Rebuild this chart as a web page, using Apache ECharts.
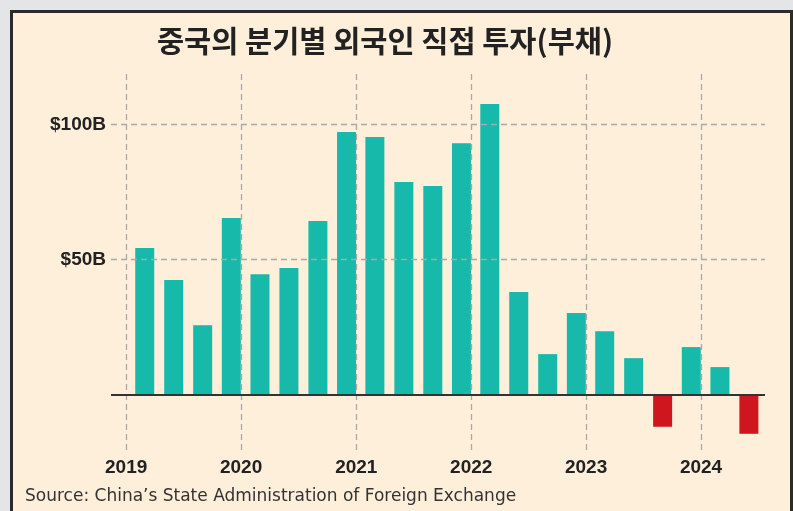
<!DOCTYPE html>
<html>
<head>
<meta charset="utf-8">
<script src="https://cdn.jsdelivr.net/npm/echarts@6/dist/echarts.min.js"></script>
<style>
  html, body { margin: 0; padding: 0; width: 793px; height: 511px; overflow: hidden; background: #e4e5e7; }
  .frame { position: absolute; left: 10px; top: 10px; width: 783px; height: 530px; box-sizing: border-box;
           border: 3px solid #2b2b2b; background: #feefda; }
  #chart { position: absolute; left: 0; top: 0; width: 793px; height: 511px; }
</style>
</head>
<body>
<div class="frame"></div>
<div id="chart"></div>
<script>
// 분기별 데이터 (막대 위치용 날짜, 값은 십억 달러)
const barDates = [
  '2019-03-01', '2019-06-01', '2019-09-01', '2019-12-01',
  '2020-03-01', '2020-06-01', '2020-09-01', '2020-12-01',
  '2021-03-01', '2021-06-01', '2021-09-01', '2021-12-01',
  '2022-03-01', '2022-06-01', '2022-09-01', '2022-12-01',
  '2023-03-01', '2023-06-01', '2023-09-01', '2023-12-01',
  '2024-03-01', '2024-06-01'
];
const fdiValues = [
  54.3, 42.4, 25.7, 65.4,
  44.6, 46.9, 64.3, 97.2,
  95.4, 78.7, 77.2, 93.1,
  107.6, 38.0, 15.0, 30.2,
  23.5, 13.5, -11.9, 17.6,
  10.2, -14.5
];
const yearTicks = ['2019', '2020', '2021', '2022', '2023', '2024'];
const valueTicks = [50, 100];

const chart = echarts.init(document.getElementById('chart'));

const gridLine = { type: [6, 4], color: '#a9a9a9', width: 1.3 };

const option = {
  backgroundColor: 'transparent',
  animation: false,
  title: {
    text: '중국의 분기별 외국인 직접 투자(부채)',
    left: 380,
    top: 21,
    textAlign: 'center',
    textStyle: {
      fontFamily: 'Noto Sans CJK KR',
      fontWeight: 'bold',
      fontSize: 29.5,
      color: '#222'
    }
  },
  graphic: [{
    type: 'text',
    left: 25,
    top: 488,
    style: {
      text: 'Source: China\u2019s State Administration of Foreign Exchange',
      font: '17px "DejaVu Sans", sans-serif',
      fill: '#333'
    }
  }],
  grid: { left: 111, right: 28, top: 74, bottom: 61 },
  // 막대 폭만큼 축이 넓어지므로 그만큼 안쪽으로 잡음
  xAxis: {
    type: 'time',
    min: '2018-12-14',
    max: '2024-06-22',
    show: false
  },
  yAxis: {
    type: 'value',
    min: -20.5,
    max: 118.7,
    show: false
  },
  series: [
    {
      // 격자선과 축 눈금 글자
      type: 'line',
      data: [],
      z: 1,
      markLine: {
        silent: true,
        symbol: 'none',
        lineStyle: gridLine,
        data: yearTicks.map(y => ({
          name: y,
          xAxis: y + '-01-01',
          label: {
            show: true,
            position: 'start',
            distance: 8,
            formatter: '{b}',
            fontFamily: 'Liberation Sans',
            fontWeight: 'bold',
            fontSize: 19,
            color: '#222'
          }
        })).concat(valueTicks.map(v => ({
          name: '$' + v + 'B',
          yAxis: v,
          label: {
            show: true,
            position: 'start',
            distance: 5,
            formatter: '{b}',
            fontFamily: 'Liberation Sans',
            fontWeight: 'bold',
            fontSize: 19,
            color: '#222'
          }
        })))
      }
    },
    {
      type: 'bar',
      z: 2,
      barWidth: 19,
      data: barDates.map((d, i) => [d, fdiValues[i]]),
      itemStyle: {
        color: p => (p.value[1] < 0 ? '#cf161f' : '#17b9ab')
      },
      markLine: {
        silent: true,
        symbol: 'none',
        label: { show: false },
        lineStyle: { type: 'solid', color: '#333', width: 2 },
        data: [{ yAxis: 0 }]
      }
    }
  ]
};

chart.setOption(option);
</script>
</body>
</html>
